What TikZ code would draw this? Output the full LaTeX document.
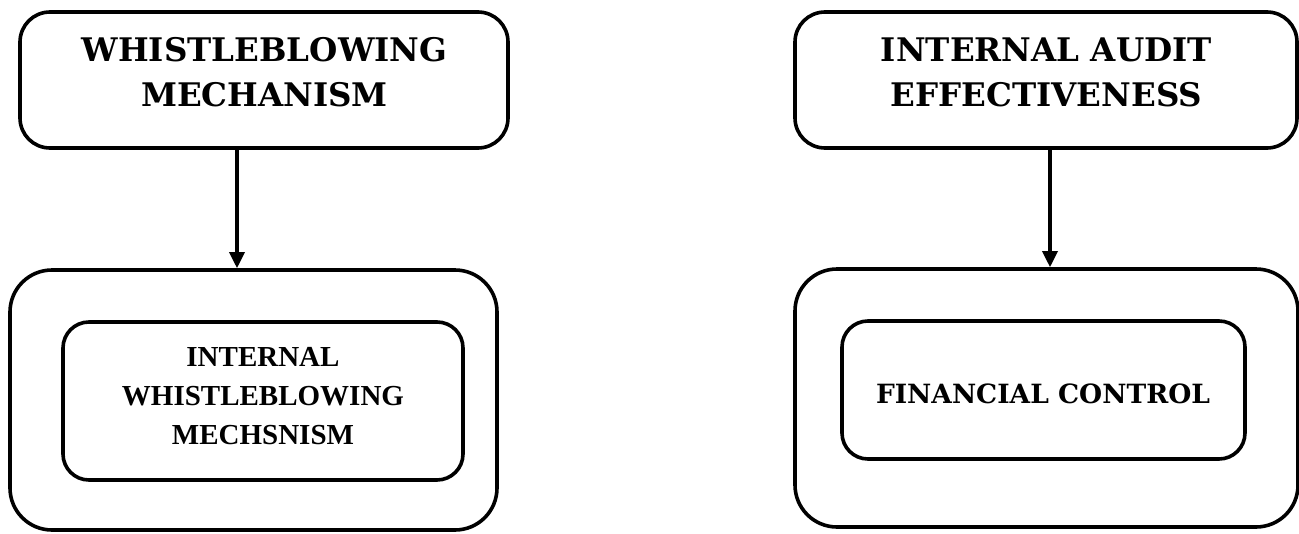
\documentclass[tikz,border=0pt]{standalone}
\usepackage{fontspec}
\setmainfont{Liberation Serif}
\newfontfamily\slabfont{DejaVu Serif}
\usetikzlibrary{arrows.meta}
\tikzset{
  box/.style={draw=black, line width=3.6pt, rounded corners=30pt, inner sep=0pt},
  outerbox/.style={box, rounded corners=42pt},
  innerbox/.style={box, rounded corners=26pt},
  headtext/.style={align=center, inner sep=0pt, font=\slabfont\bfseries\fontsize{32.5}{45}\selectfont},
  bodytext/.style={align=center, inner sep=0pt, font=\bfseries\fontsize{29}{39}\selectfont},
  bodyslab/.style={align=center, inner sep=0pt, font=\slabfont\bfseries\fontsize{26.5}{36}\selectfont},
  conn/.style={line width=3.4pt, -{Triangle[length=16pt,width=15pt]}}
}
\begin{document}
\begin{tikzpicture}[x=1pt,y=-1pt]
\useasboundingbox (0,0) rectangle (1299,533);
% left column
\node[box, minimum width=488pt, minimum height=136pt] (wb) at (264,80) {};
\node[headtext] (wbt) at (264.5,72) {WHISTLEBLOWING\\MECHANISM};
\node[outerbox, minimum width=487pt, minimum height=260pt] (wbo) at (253.5,400) {};
\node[innerbox, minimum width=400pt, minimum height=158pt] (wbi) at (263,401) {};
\node[bodytext] (wbit) at (263,396) {INTERNAL\\WHISTLEBLOWING\\MECHSNISM};
\draw[conn] (wb.south -| 237,0) -- (wbo.north -| 237,0);
% right column
\node[box, minimum width=502pt, minimum height=136pt] (ia) at (1046,80) {};
\node[headtext] (iat) at (1046.5,72) {INTERNAL AUDIT\\EFFECTIVENESS};
\node[outerbox, minimum width=503pt, minimum height=258pt] (iao) at (1046.5,398) {};
\node[innerbox, minimum width=403pt, minimum height=138pt] (iai) at (1043.5,390) {};
\node[bodyslab] (iait) at (1043,394) {FINANCIAL CONTROL};
\draw[conn] (ia.south -| 1050,0) -- (iao.north -| 1050,0);
\end{tikzpicture}
\end{document}
